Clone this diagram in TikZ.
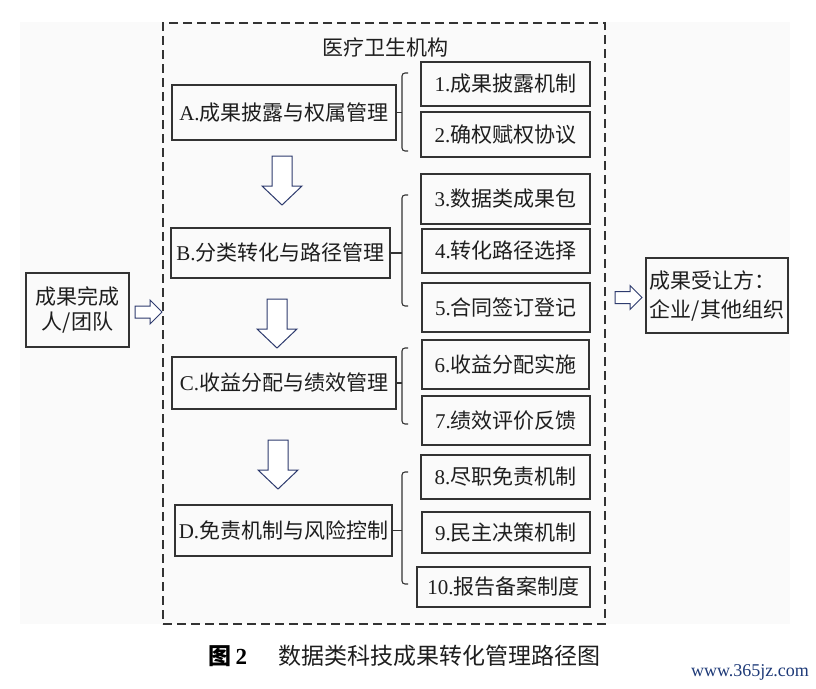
\documentclass[tikz,border=0pt]{standalone}
\usepackage{fontspec}
\setmainfont{Liberation Serif}
\newfontfamily\cjk{Noto Sans CJK SC}
\definecolor{boxc}{HTML}{333333}
\definecolor{txt}{HTML}{1E1E1E}
\definecolor{navy}{HTML}{2E3B6E}
\definecolor{wm}{HTML}{1E3A78}
\definecolor{bgc}{HTML}{FAFAFA}
\tikzset{
  box/.style={draw=boxc, line width=1.2pt, inner sep=0pt, text=txt, align=center,
    font=\fontsize{21}{25}\selectfont},
  mainbox/.style={box, font=\fontsize{21}{25}\selectfont},
  bracec/.style={draw=boxc, line width=1.1pt, rounded corners=3pt},
  tickc/.style={draw=boxc, line width=1.1pt},
  arrowline/.style={draw=navy, line width=1pt, fill=white, line join=miter},
  frame/.style={draw=boxc, line width=1.1pt, dash pattern=on 9pt off 5pt, inner sep=0pt},
  pics/darrow/.style={code={
    \draw[arrowline] (-10,0) -- (10,0) -- (10,30) -- (20,30) -- (0,49) -- (-20,30) -- (-10,30) -- cycle;}},
  pics/rarrow/.style={code={
    \draw[arrowline] (0,-6) -- (15,-6) -- (15,-12) -- (27,0) -- (15,12) -- (15,6) -- (0,6) -- cycle;}}
}
\begin{document}
\begin{tikzpicture}[x=1pt,y=-1pt]
\useasboundingbox (0,0) rectangle (816,688);
\fill[white] (0,0) rectangle (816,688);
\fill[bgc] (20,22) rectangle (790,624);

% container
\node[frame, minimum width=442pt, minimum height=601pt] (org) at (384,323.5) {};
\node[text=txt, font=\fontsize{21}{25}\selectfont] (title) at (385,47) {\cjk 医疗卫生机构};

% main stage boxes
\node[mainbox, minimum width=224pt, minimum height=55pt] (A) at (284,112.5) {A.\cjk 成果披露与权属管理};
\node[mainbox, minimum width=219pt, minimum height=50pt] (B) at (280.5,253) {B.\cjk 分类转化与路径管理};
\node[mainbox, minimum width=224pt, minimum height=52pt] (C) at (284,383) {C.\cjk 收益分配与绩效管理};
\node[mainbox, minimum width=217pt, minimum height=51pt] (D) at (283.5,530.5) {D.\cjk 免责机制与风险控制};

% sub boxes
\node[box, minimum width=169pt, minimum height=44pt] (s1) at (505.5,84) {1.\cjk 成果披露机制};
\node[box, minimum width=169pt, minimum height=45pt] (s2) at (505.5,134.5) {2.\cjk 确权赋权协议};
\node[box, minimum width=169pt, minimum height=50pt] (s3) at (505.5,199) {3.\cjk 数据类成果包};
\node[box, minimum width=168pt, minimum height=44pt] (s4) at (506,251) {4.\cjk 转化路径选择};
\node[box, minimum width=168pt, minimum height=49pt] (s5) at (506,307.5) {5.\cjk 合同签订登记};
\node[box, minimum width=167pt, minimum height=49pt] (s6) at (505.5,364.5) {6.\cjk 收益分配实施};
\node[box, minimum width=168pt, minimum height=49pt] (s7) at (506,420.5) {7.\cjk 绩效评价反馈};
\node[box, minimum width=169pt, minimum height=44pt] (s8) at (505.5,477) {8.\cjk 尽职免责机制};
\node[box, minimum width=168pt, minimum height=41pt] (s9) at (506,532.5) {9.\cjk 民主决策机制};
\node[box, minimum width=173pt, minimum height=40pt] (s10) at (503.5,587) {10.\cjk 报告备案制度};

% side boxes
\node[box, minimum width=103pt, minimum height=74pt, font=\fontsize{21}{25}\selectfont] (left) at (77.5,310) {\cjk 成果完成\\\cjk 人/团队};
\node[box, minimum width=142pt, minimum height=75pt, align=left, font=\fontsize{21}{29}\selectfont] (right) at (717,295.5) {\cjk 成果受让方：\\\cjk 企业/其他组织};

% braces
\coordinate (bA) at (402,112.5);
\coordinate (bB) at (402,253);
\coordinate (bC) at (402,383);
\coordinate (bD) at (402,530.5);
\draw[bracec] (408,73) -- (402,73) -- (402,151) -- (408,151);
\draw[tickc] (A.east) -- (bA);
\draw[bracec] (408,195) -- (402,195) -- (402,306) -- (408,306);
\draw[tickc] (B.east) -- (bB);
\draw[bracec] (408,348) -- (402,348) -- (402,424) -- (408,424);
\draw[tickc] (C.east) -- (bC);
\draw[bracec] (408,472) -- (402,472) -- (402,584) -- (408,584);
\draw[tickc] (D.east) -- (bD);

% hollow arrows
\pic at (282,156) {darrow};
\pic at (277,299) {darrow};
\pic at (278,440) {darrow};
\pic at (135,312) {rarrow};
\pic at (615,297.5) {rarrow};

% caption
\node[text=black, font=\fontsize{23}{26}\selectfont] (capnum) at (228,656) {{\cjk\bfseries 图}\,\textbf{2}};
\node[text=txt, font=\fontsize{23}{26}\selectfont] (cap) at (439,656) {\cjk 数据类科技成果转化管理路径图};
\node[text=wm, font=\fontsize{18}{21}\selectfont] (wmk) at (750,672) {www.365jz.com};
\end{tikzpicture}
\end{document}
